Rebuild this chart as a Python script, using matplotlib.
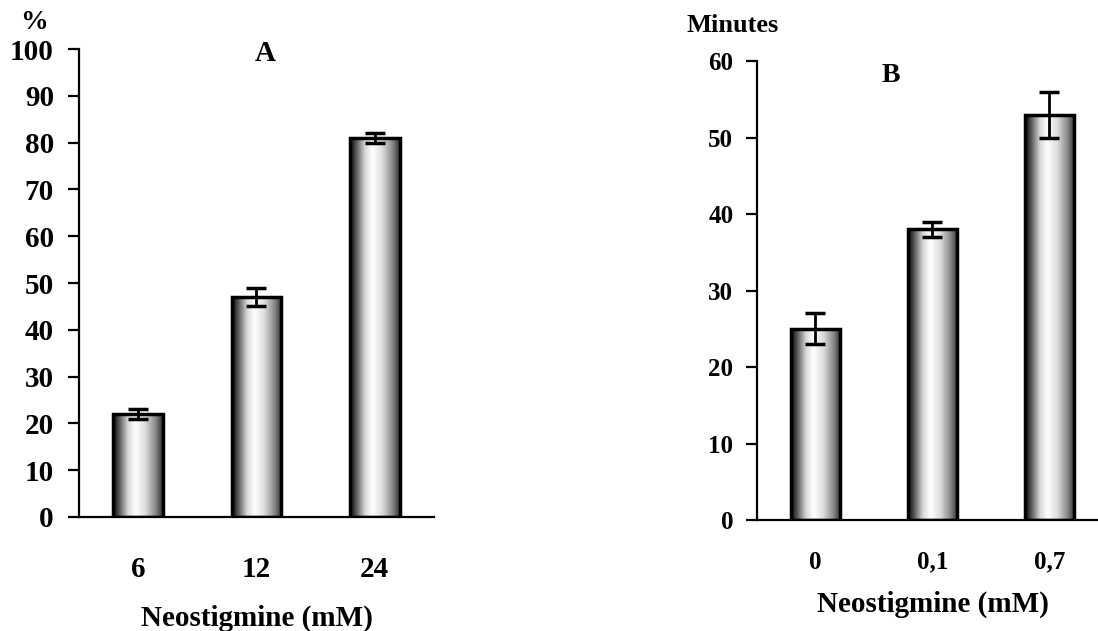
"""Neostigmine bar charts, two panels with shaded cylinder bars"""
import numpy as np
import matplotlib
matplotlib.use("Agg")
import matplotlib.pyplot as plt
from matplotlib.colors import LinearSegmentedColormap

# panel A data
a_labels = ["6", "12", "24"]
a_values = [22, 47, 81]
a_errors = [1.1, 2, 1]

# panel B data
b_labels = ["0", "0,1", "0,7"]
b_values = [25, 38, 53]
b_errors = [2, 1, 3]

plt.rcParams['font.family'] = ['Liberation Serif', 'DejaVu Serif']
plt.rcParams['font.weight'] = 'bold'

# cylinder-like shading: dark edges, bright just left of centre
shade = LinearSegmentedColormap.from_list(
    "cyl", [(0.0, "#050505"), (0.12, "#555555"), (0.30, "#d8d8d8"),
            (0.45, "#ffffff"), (0.65, "#dcdcdc"), (0.85, "#8a8a8a"),
            (1.0, "#303030")])
grad = np.linspace(0, 1, 256).reshape(1, -1)


def draw_panel(ax, labels, values, errors, ymax, ystep, tick_fs, xpad, ypad):
    x = np.arange(len(labels))
    bars = ax.bar(x, values, width=0.42, facecolor='none', edgecolor='black',
                  linewidth=2.5, zorder=3)
    for b in bars:
        x0, w, h = b.get_x(), b.get_width(), b.get_height()
        im = ax.imshow(grad, cmap=shade, aspect='auto', extent=(x0, x0 + w, 0, h),
                       zorder=2, interpolation='bicubic')
        im.set_clip_path(b)
    ax.errorbar(x, values, yerr=errors, fmt='none', ecolor='black',
                elinewidth=2, capsize=7, capthick=2.5, zorder=4)
    ax.set_xlim(-0.5, len(labels) - 0.5)
    ax.set_ylim(0, ymax)
    ax.set_yticks(np.arange(0, ymax + 1, ystep))
    ax.set_xticks(x)
    ax.set_xticklabels(labels)
    for s in ['top', 'right']:
        ax.spines[s].set_visible(False)
    for s in ['left', 'bottom']:
        ax.spines[s].set_linewidth(1.6)
    ax.tick_params(axis='y', direction='out', length=8, width=1.6, pad=ypad,
                   labelsize=tick_fs)
    ax.tick_params(axis='x', length=0, pad=xpad, labelsize=tick_fs)
    for lbl in ax.get_xticklabels() + ax.get_yticklabels():
        lbl.set_fontweight('bold')


fig = plt.figure(figsize=(10.98, 6.31), dpi=100)

ax_a = fig.add_axes([0.0719, 0.1807, 0.3233, 0.7416])
draw_panel(ax_a, a_labels, a_values, a_errors, 100, 10, 21, 28, 10)
ax_a.text(0.524, 0.99, "A", transform=ax_a.transAxes, ha='center', va='center',
          fontsize=21, fontweight='bold')
ax_a.set_xlabel("Neostigmine (mM)", fontsize=21, fontweight='bold', labelpad=16)

ax_b = fig.add_axes([0.6894, 0.1759, 0.3197, 0.7274])
draw_panel(ax_b, b_labels, b_values, b_errors, 60, 10, 18, 22, 9)
ax_b.text(0.382, 0.969, "B", transform=ax_b.transAxes, ha='center', va='center',
          fontsize=20, fontweight='bold')
ax_b.set_xlabel("Neostigmine (mM)", fontsize=21, fontweight='bold', labelpad=12)

fig.text(0.031, 0.965, "%", ha='center', va='center', fontsize=20, fontweight='bold')
fig.text(0.667, 0.959, "Minutes", ha='center', va='center', fontsize=19,
         fontweight='bold')

fig.savefig("out.png", dpi=100)
